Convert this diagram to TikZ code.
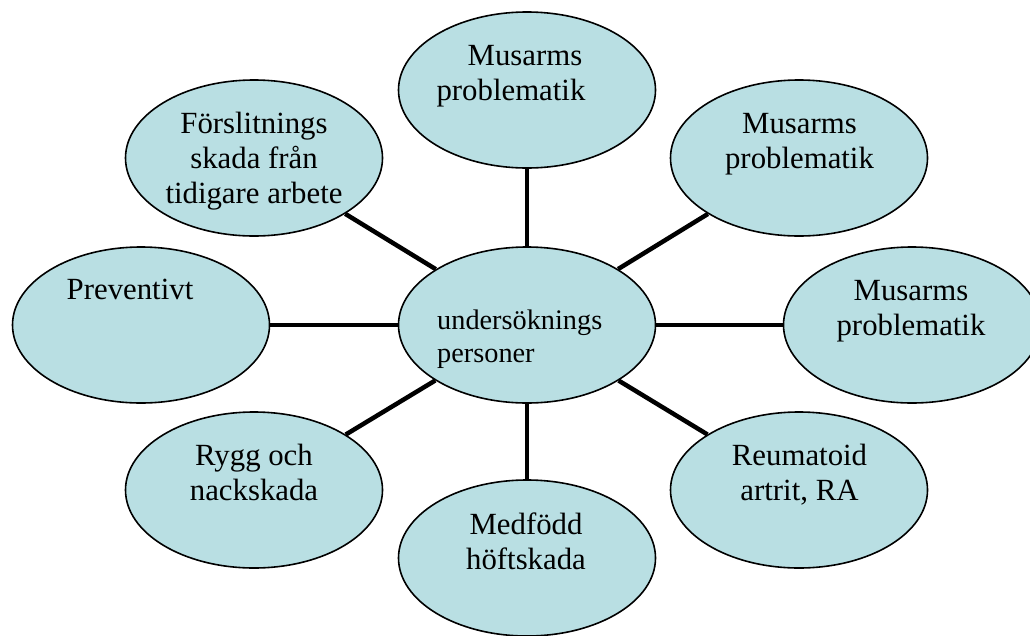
\documentclass[tikz,border=0pt]{standalone}
\usepackage{fontspec}
\setmainfont{Liberation Serif}
\usetikzlibrary{shapes.geometric}
\definecolor{bubble_blue}{RGB}{185,223,227}

\begin{document}
\begin{tikzpicture}[x=1pt,y=-1pt,
    bubble/.style={ellipse,draw=black,line width=1.6pt,fill=bubble_blue,
      minimum width=257pt,minimum height=156pt,inner sep=0pt},
    spoke/.style={black,line width=4.5pt},
    caption/.style={anchor=base,align=center,inner sep=0pt,
      font=\fontsize{30.8}{35}\selectfont}]
        \useasboundingbox (0,0) rectangle (1030,635);
        \clip (0,0) rectangle (1030,635);
        % ellipses
        \node[bubble] (pers) at (527,325) {};
        \node[bubble] (top) at (527,90) {};
        \node[bubble] (upright) at (799,158) {};
        \node[bubble] (right) at (912,325) {};
        \node[bubble] (lowright) at (799,490) {};
        \node[bubble] (bottom) at (527,558) {};
        \node[bubble] (lowleft) at (254,490) {};
        \node[bubble] (left) at (141,325) {};
        \node[bubble] (upleft) at (254,158) {};
        % spokes
        \foreach \n in {top,upright,right,lowright,bottom,lowleft,left,upleft}
          \draw[spoke] (pers) -- (\n);
        % texts (base = last line)
        \node[caption] (top_t) at (525,100) {Musarms\\problematik\rule{28pt}{0pt}};
        \node[caption] (upright_t) at (799.5,168) {Musarms\\problematik};
        \node[caption] (right_t) at (911,335) {Musarms\\problematik};
        \node[caption] (lowright_t) at (799.5,500) {Reumatoid\\artrit, RA};
        \node[caption] (bottom_t) at (526,569) {Medfödd\\höftskada};
        \node[caption] (lowleft_t) at (254,500) {Rygg och\\nackskada};
        \node[caption] (left_t) at (130,299) {Preventivt};
        \node[caption] (upleft_t) at (254,203) {Förslitnings\\skada från\\tidigare arbete};
        \node[anchor=base west,align=left,inner sep=0pt,
          font=\fontsize{28.3}{33}\selectfont] (pers_t) at (437,362)
          {undersöknings\\personer};
      \end{tikzpicture}
\end{document}
